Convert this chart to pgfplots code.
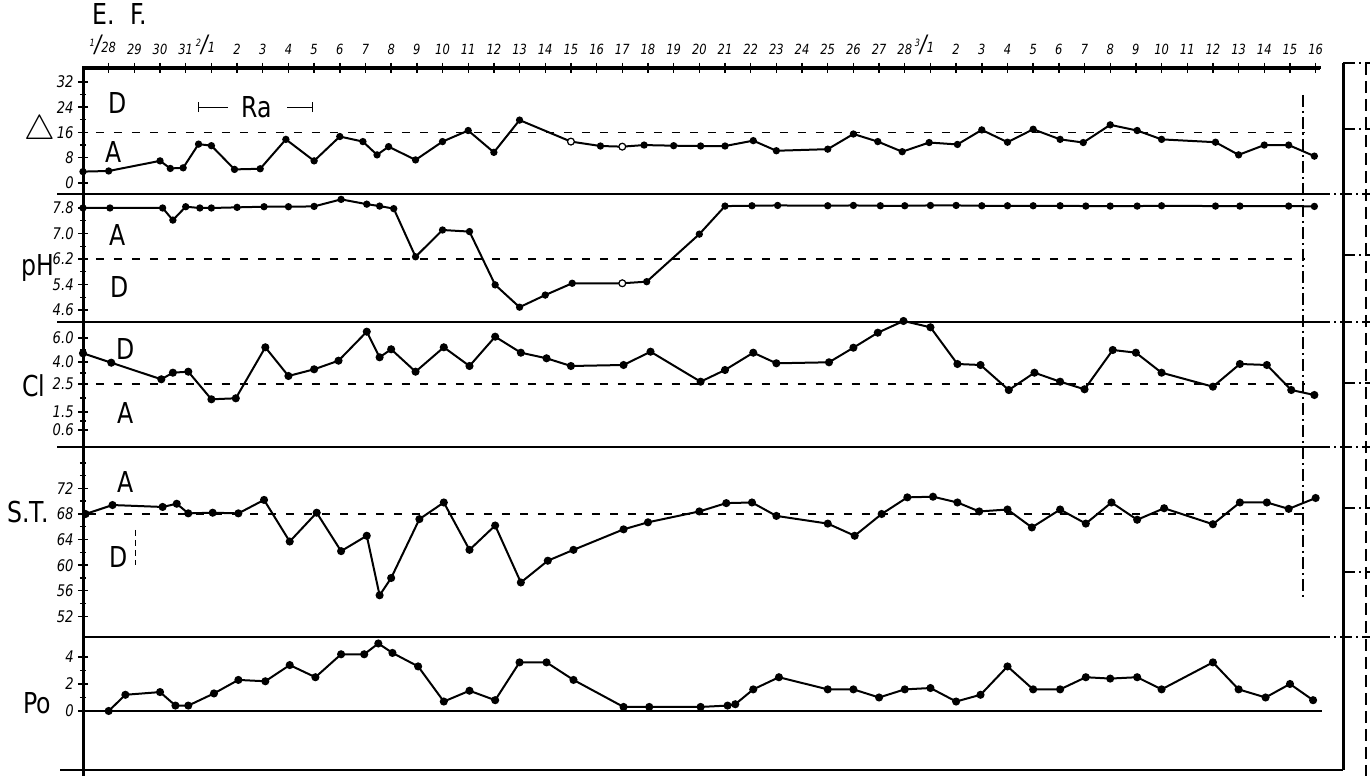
\documentclass[border=0pt]{standalone}
\usepackage{fontspec}
\setmainfont{DejaVu Sans}[FakeStretch=0.82]
\usepackage{pgfplots}
\pgfplotsset{compat=1.18}
\newcommand{\fr}[2]{\llap{\raisebox{0.8ex}{\tiny#1}{\large/}}#2}
\pgfplotsset{
  panel/.style={
    scale only axis, width=617.6pt, xmin=0, xmax=48.1,
    axis y line*=left,
    y axis line style={draw=none},
    tick style={black, line width=0.7pt},
    major tick length=5pt, minor tick length=3pt,
    tick align=center,
    yticklabel style={font=\itshape\footnotesize, inner sep=1pt, xshift=-1pt},
    clip=false,
  },
  ser/.style={black, line width=1pt, mark=*, mark size=1.5pt, mark options={solid}},
  opn/.style={black, only marks, mark=*, mark size=1.7pt, mark options={fill=white, line width=0.6pt}},
  ref/.style={black, line width=0.7pt, dash pattern=on 4pt off 5pt, no markers},
}
\begin{document}
\begin{tikzpicture}
\path[use as bounding box] (0,0) rectangle (685pt,388pt);

% ---------- Panel 1 : Delta ----------
\begin{axis}[panel, at={(41.5pt,291pt)}, anchor=south west, height=63pt,
  ymin=-3.48, ymax=36.39,
  axis x line*=top, x axis line style={line width=1.3pt},
  xtick={1,...,48},
  xticklabels={\fr{1}{28},29,30,31,\fr{2}{1},2,3,4,5,6,7,8,9,10,11,12,13,14,15,16,17,18,19,20,21,22,23,24,25,26,27,28,\fr{3}{1},2,3,4,5,6,7,8,9,10,11,12,13,14,15,16},
  xticklabel style={font=\itshape\scriptsize, inner sep=1pt, yshift=3pt},
  ytick={0,8,16,24,32}, yticklabels={0,8,16,24,32},
  minor ytick={4,12,20,28},
]
\draw[line width=1.5pt, black] (rel axis cs:0,1) -- (rel axis cs:1.002,1);
\addplot[ref] coordinates {(0.5,16) (47.6,16)};
\addplot[ser, mark size=1.3pt] coordinates {
(0,3.6) (1,3.8) (3,7.0) (3.4,4.6) (3.9,4.8) (4.5,12.3) (5,11.8) (5.9,4.3) (6.9,4.5)
(7.9,13.8) (9,7.0) (10,14.7) (10.9,13.1) (11.45,8.9) (11.9,11.5) (12.95,7.3) (14,13.1)
(15,16.6) (16,9.7) (17,19.9) (19,13.1) (20.15,11.7) (21,11.5) (21.85,12.0) (23,11.8)
(24.05,11.7) (25,11.7) (26.1,13.4) (27,10.2) (29,10.7) (30,15.5) (30.95,13.1)
(31.9,9.9) (32.95,12.8) (34.05,12.2) (35,16.8) (36,12.9) (37,17.0) (38.05,13.8)
(38.95,12.8) (40,18.4) (41.05,16.6) (42,13.8) (44.1,12.9) (45,8.9) (46,12.0)
(46.95,12.0) (47.95,8.5)};
\addplot[opn] coordinates {(19,13.1) (21,11.5)};
\node[font=\Large] at (axis cs:1.35,25.3) {D};
\node[font=\Large] at (axis cs:1.2,9.8) {A};
\draw[line width=0.6pt] (axis cs:4.5,22.4) -- (axis cs:4.5,25.6);
\draw[line width=0.6pt] (axis cs:4.5,24) -- (axis cs:5.65,24);
\node[font=\Large] at (axis cs:6.75,24) {Ra};
\draw[line width=0.6pt] (axis cs:7.95,24) -- (axis cs:8.95,24);
\draw[line width=0.6pt] (axis cs:8.95,22.4) -- (axis cs:8.95,25.6);
\end{axis}

% ---------- Panel 2 : pH ----------
\begin{axis}[panel, axis x line=none, at={(41.5pt,227pt)}, anchor=south west, height=64pt,
  ymin=4.226, ymax=8.239,
  ytick={4.6,5.4,6.2,7.0,7.8}, yticklabels={4.6,5.4,6.2,7.0,7.8},
  minor ytick={5.0,5.8,6.6,7.4},
]
\addplot[ref] coordinates {(0.5,6.2) (47.6,6.2)};
\addplot[ser, mark size=1.3pt] coordinates {
(0,7.8) (1.05,7.8) (3.1,7.8) (3.5,7.42) (4,7.84) (4.55,7.8) (5,7.8) (6,7.82) (7.05,7.84)
(8,7.84) (9,7.85) (10.05,8.07) (11.05,7.92) (11.55,7.86) (12.1,7.78) (12.95,6.27)
(14,7.11) (15.05,7.06) (16.05,5.39) (17,4.69) (18,5.07) (19.05,5.44) (21,5.44)
(21.95,5.49) (24,6.98) (25,7.86) (26.05,7.87) (27.05,7.88) (29,7.87) (30,7.88)
(31.05,7.87) (32,7.87) (33,7.88) (34,7.88) (35,7.87) (36,7.87) (37,7.87) (38.05,7.87)
(39.05,7.86) (40,7.86) (41.05,7.86) (42,7.87) (44.1,7.86) (45.05,7.86) (46.95,7.86)
(47.95,7.85)};
\addplot[opn] coordinates {(21,5.44)};
\node[font=\Large] at (axis cs:1.36,6.95) {A};
\node[font=\Large] at (axis cs:1.44,5.32) {D};
\end{axis}

% ---------- Panel 3 : Cl (hand-drawn non-linear scale; positions) ----------
\begin{axis}[panel, axis x line=none, at={(41.5pt,164.5pt)}, anchor=south west, height=62.5pt,
  ymin=0, ymax=125,
  ytick={17,35,63,85,109}, yticklabels={0.6,1.5,2.5,4.0,6.0},
  minor ytick={26,49,74,97},
]
\addplot[ref] coordinates {(0.5,63) (47.6,63)};
\addplot[ser] coordinates {
(0,93.7) (1.1,84.3) (3.05,67.7) (3.5,74.3) (4.1,75.3) (5,47.7) (5.95,48.7) (7.1,99.7)
(8,71) (9,77.7) (9.95,86.3) (11.05,115.3) (11.55,89.7) (12,97.7) (12.95,75.3)
(14.05,99.7) (15.05,81) (16.05,110.3) (17.05,94.3) (18.05,88.7) (19,81) (21.05,82)
(22.1,95.3) (24.05,65.3) (25,77) (26.1,94.3) (27,83.7) (29.05,84.7) (30,99.3)
(30.95,114.3) (31.95,126) (33,119.7) (34.05,83) (34.95,82) (36.05,57) (37.05,74.3)
(38.05,65.3) (39,57.7) (40.1,97) (41,94.3) (42,74.3) (44,60.3) (45.05,83) (46.1,82)
(47.05,57) (47.95,52)};
\node[font=\Large] at (axis cs:1.64,98) {D};
\node[font=\Large] at (axis cs:1.64,34) {A};
\end{axis}

% ---------- Panel 4 : S.T. ----------
\begin{axis}[panel, axis x line=none, at={(41.5pt,69.5pt)}, anchor=south west, height=95pt,
  ymin=48.78, ymax=78.47,
  ytick={52,56,60,64,68,72}, yticklabels={52,56,60,64,68,72},
  minor ytick={54,58,62,66,70,74,76},
]
\addplot[ref] coordinates {(0.2,68) (47.6,68)};
\addplot[ser] coordinates {
(0.1,68.0) (1.15,69.4) (3.1,69.1) (3.65,69.6) (4.1,68.1) (5.05,68.2) (6.05,68.1)
(7.05,70.2) (8.05,63.7) (9.1,68.2) (10.05,62.2) (11.05,64.6) (11.55,55.3) (12,58.0)
(13.1,67.2) (14.05,69.8) (15.05,62.4) (16.05,66.2) (17.05,57.3) (18.1,60.7)
(19.1,62.4) (21.05,65.6) (22,66.7) (24,68.4) (25.05,69.7) (26.05,69.8) (27,67.7)
(29,66.5) (30.05,64.6) (31.1,68.0) (32.1,70.6) (33.1,70.7) (34.05,69.8) (34.9,68.4)
(36,68.7) (36.95,65.9) (38.05,68.7) (39.05,66.5) (40.05,69.8) (41.05,67.1)
(42.1,68.9) (44,66.4) (45.05,69.8) (46.1,69.8) (46.95,68.8) (48,70.5)};
\node[font=\Large] at (axis cs:1.64,73) {A};
\node[font=\Large] at (axis cs:1.4,61.3) {D};
\end{axis}

% ---------- Panel 5 : Po ----------
\begin{axis}[panel, axis x line=none, at={(41.5pt,3pt)}, anchor=south west, height=66.5pt,
  ymin=-4.37, ymax=5.48,
  ytick={0,2,4}, yticklabels={0,2,4},
  minor ytick={1,3},
]
\addplot[ser] coordinates {
(1,0) (1.65,1.2) (3,1.4) (3.6,0.4) (4.1,0.4) (5.1,1.3) (6.05,2.3) (7.1,2.2) (8.05,3.4)
(9.05,2.5) (10.05,4.2) (10.95,4.2) (11.5,5.0) (12.05,4.3) (13.05,3.3) (14.05,0.7)
(15.05,1.5) (16.05,0.8) (17,3.6) (18.05,3.6) (19.1,2.3) (21.05,0.3) (22.05,0.3)
(24.05,0.3) (25.1,0.4) (25.4,0.5) (26.1,1.6) (27.1,2.5) (29,1.6) (30,1.6) (31,1.0)
(32,1.6) (33,1.7) (34,0.7) (34.95,1.2) (36,3.3) (37,1.6) (38.05,1.6) (39.05,2.5)
(40,2.4) (41.05,2.5) (42,1.6) (44,3.6) (45,1.6) (46.05,1.0) (47,2.0) (47.9,0.8)};
\end{axis}

% ---------- frame and decorations (pixel units) ----------
\begin{scope}[shift={(0pt,388pt)}, x=0.5pt, y=-0.5pt]
  \draw[line width=1.5pt] (83,68) -- (83,776);
  \draw[line width=1.6pt] (82,68) -- (1320,68);
  \foreach \d in {1,...,48} {
    \draw[line width=0.7pt] ({83+25.68*\d},63) -- ({83+25.68*\d},73);
  }
  \draw[line width=1.5pt] (1343,63) -- (1343,770);
  \foreach \yy in {194,322,447} {
    \draw[line width=1.2pt] (57,\yy) -- (1318,\yy);
    \draw[line width=0.6pt, dash pattern=on 6pt off 2pt on 1pt off 2pt] (1318,\yy) -- (1370,\yy);
  }
  \draw[line width=1.2pt] (83,637) -- (1318,637);
  \draw[line width=0.6pt, dash pattern=on 6pt off 2pt on 1pt off 2pt] (1318,637) -- (1370,637);
  \draw[line width=0.9pt] (83,711) -- (1322,711);
  \draw[line width=1.2pt] (60,770) -- (1343,770);
  \foreach \yy in {63,129,255,383,508,572} {
    \draw[line width=0.6pt, dash pattern=on 6pt off 2pt on 1pt off 2pt] (1343,\yy) -- (1370,\yy);
  }
  \draw[line width=0.6pt, dash pattern=on 6pt off 3pt] (1366,63) -- (1366,776);
  \draw[line width=0.6pt, dash pattern=on 6pt off 2pt on 1pt off 2pt] (1303,95) -- (1303,600);
  \draw[line width=0.5pt, dash pattern=on 3pt off 2pt] (135,530) -- (135,565);
  % side labels
  \node[font=\Large] at (120,14) {E.\ \ F.};
  \node[font=\LARGE] at (40,131) {$\triangle$};
  \node[font=\Large] at (38,268) {pH};
  \node[font=\Large] at (34,386) {Cl};
  \node[font=\Large] at (28,512) {S.T.};
  \node[font=\Large] at (37,703) {Po};
\end{scope}
\end{tikzpicture}
\end{document}
